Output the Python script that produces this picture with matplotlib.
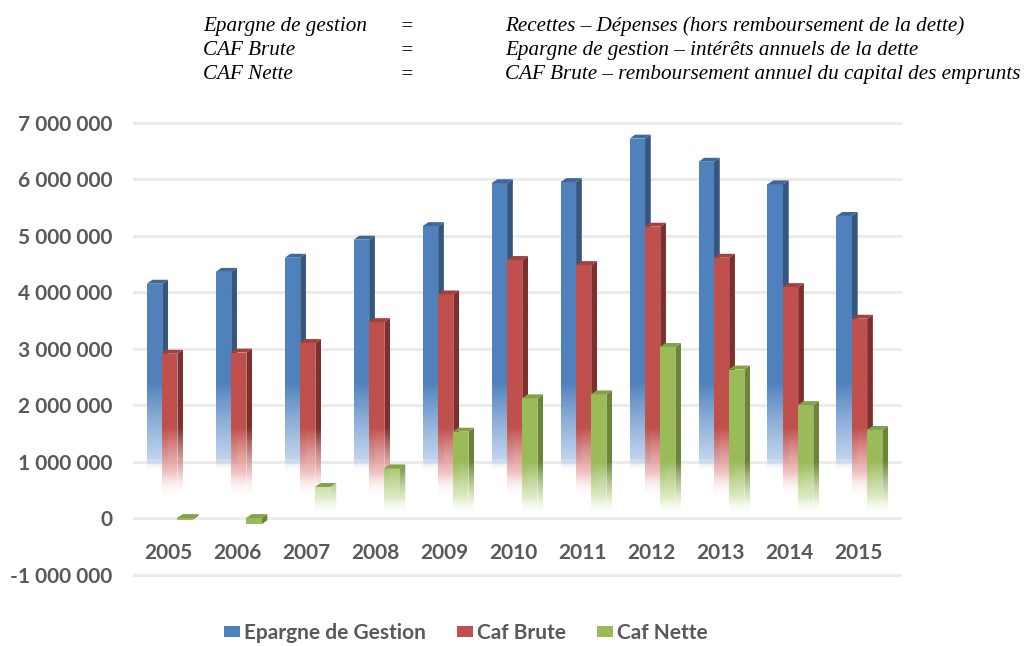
import numpy as np
import matplotlib
matplotlib.use("Agg")
import matplotlib.pyplot as plt
from matplotlib.patches import Polygon, Patch
from matplotlib.ticker import FuncFormatter
from matplotlib.colors import to_rgb

years = ["2005", "2006", "2007", "2008", "2009", "2010", "2011", "2012", "2013", "2014", "2015"]
epargne_gestion = [4150000, 4360000, 4610000, 4930000, 5170000, 5930000, 5950000, 6720000, 6310000, 5910000, 5350000]
caf_brute = [2910000, 2930000, 3100000, 3470000, 3960000, 4570000, 4480000, 5160000, 4610000, 4090000, 3530000]
caf_nette = [-30000, -110000, 550000, 880000, 1530000, 2120000, 2190000, 3030000, 2630000, 2000000, 1560000]
series_names = ["Epargne de Gestion", "Caf Brute", "Caf Nette"]
yticks = [-1000000, 0, 1000000, 2000000, 3000000, 4000000, 5000000, 6000000, 7000000]

front_colors = ["#4F81BD", "#C0504D", "#9BBB59"]
side_colors = ["#35567F", "#7F2F2D", "#6A8538"]
top_colors = ["#3F6899", "#A24240", "#84A14A"]
fade_light = ["#A9C4E8", "#EBAFAE", "#D5E6B5"]
fade_top = [2400000, 1600000, 1000000]
fade_bottom = [1050000, 800000, 350000]
fade_tail = [250000, 450000, 300000]

fig = plt.figure(figsize=(10.24, 6.46), dpi=100)
ax = fig.add_axes([0.13, 0.1063, 0.751, 0.708])

label_font = "Lato"
ax.set_yticks(yticks)
ax.yaxis.set_major_formatter(FuncFormatter(lambda v, p: "{:,}".format(int(v)).replace(",", " ")))
ax.grid(axis="y", color="#EBEBEB", linewidth=2.2, zorder=0)
ax.set_axisbelow(True)
for s in ax.spines.values():
    s.set_visible(False)
ax.spines["bottom"].set_position(("data", 0))
ax.tick_params(axis="both", length=0)
ax.tick_params(axis="y", pad=15)
ax.tick_params(axis="x", pad=18)
ax.set_xticks(range(len(years)))
ax.set_xticklabels(years)
for lab in ax.get_xticklabels() + ax.get_yticklabels():
    lab.set_fontfamily(label_font)
    lab.set_fontsize(15)
    lab.set_fontweight("bold")
    lab.set_color("#595959")

bw = 0.225
offsets = [-0.2, 0.02, 0.24]
depth_x = 0.083
depth_y = 70000


def gradient_image(col, light, ftop, fbot, tail, ylo, yhi, n=400):
    ys = np.linspace(yhi, ylo, n)
    c = np.array(to_rgb(col))
    l = np.array(to_rgb(light))
    img = np.zeros((n, 1, 4))
    for i, y in enumerate(ys):
        if y >= ftop:
            rgb, a = c, 1.0
        elif y >= fbot:
            t = (ftop - y) / (ftop - fbot)
            rgb = c * (1 - t) + l * t
            a = 1.0 - 0.25 * t
        else:
            t = min(1.0, (fbot - y) / tail)
            rgb = l
            a = 0.75 * (1 - t) ** 2
        img[i, 0, :3] = rgb
        img[i, 0, 3] = a
    return img


all_series = [epargne_gestion, caf_brute, caf_nette]
for si, vals in enumerate(all_series):
    xs = np.arange(len(vals)) + offsets[si]
    bars = ax.bar(xs, vals, width=bw, color="none", edgecolor="none", zorder=3 + si)
    for rect, v in zip(bars.patches, vals):
        x0 = rect.get_x()
        x1 = x0 + rect.get_width()
        y0 = min(0, v)
        y1 = max(0, v)
        z = 3 + si
        side = Polygon([[x1, y0], [x1 + depth_x, y0 + depth_y], [x1 + depth_x, y1 + depth_y], [x1, y1]],
                       closed=True, facecolor="none", edgecolor="none", zorder=z)
        ax.add_patch(side)
        if v >= 0:
            img = gradient_image(side_colors[si], fade_light[si], fade_top[si], fade_bottom[si], fade_tail[si],
                                 y0, y1 + depth_y)
        else:
            img = np.zeros((1, 1, 4)); img[0, 0, :3] = to_rgb(side_colors[si]); img[0, 0, 3] = 1
        im = ax.imshow(img, extent=[x1, x1 + depth_x, y0, y1 + depth_y], aspect="auto",
                       interpolation="bilinear", zorder=z)
        im.set_clip_path(side)
        front = Polygon([[x0, y0], [x1, y0], [x1, y1], [x0, y1]], closed=True,
                        facecolor="none", edgecolor="none", zorder=z + 0.1)
        ax.add_patch(front)
        if v >= 0:
            img = gradient_image(front_colors[si], fade_light[si], fade_top[si], fade_bottom[si], fade_tail[si],
                                 y0, y1)
        else:
            img = np.zeros((1, 1, 4)); img[0, 0, :3] = to_rgb(front_colors[si]); img[0, 0, 3] = 1
        im = ax.imshow(img, extent=[x0, x1, y0, y1], aspect="auto", interpolation="bilinear", zorder=z + 0.1)
        im.set_clip_path(front)
        ytop = v if v >= 0 else 0
        cap = Polygon([[x0, ytop], [x1, ytop], [x1 + depth_x, ytop + depth_y], [x0 + depth_x, ytop + depth_y]],
                      closed=True, facecolor=top_colors[si], edgecolor="none", zorder=z + 0.2)
        ax.add_patch(cap)

ax.set_xlim(-0.51, 10.64)
ax.set_ylim(-1050000, 7050000)

hdr_left = ["Epargne de gestion", "CAF Brute", "CAF Nette"]
hdr_right = ["Recettes – Dépenses (hors remboursement de la dette)",
             "Epargne de gestion – intérêts annuels de la dette",
             "CAF Brute – remboursement annuel du capital des emprunts"]
for i in range(3):
    yy = 1 - (31 + 24 * i) / 646
    kw = dict(family="Liberation Serif", style="italic", fontsize=15.2, va="baseline", ha="left", color="black")
    fig.text(203 / 1024, yy, hdr_left[i], **kw)
    fig.text(400 / 1024, yy, "=", **kw)
    fig.text(505 / 1024, yy, hdr_right[i], **kw)

handles = [Patch(facecolor=c, edgecolor="none") for c in front_colors]
leg = fig.legend(handles, series_names, loc="center", bbox_to_anchor=(0.455, 0.02), ncol=3,
                 frameon=False, handlelength=0.75, handleheight=0.45, handletextpad=0.2,
                 columnspacing=1.5, prop=dict(family=label_font, size=15, weight="bold"))
for t in leg.get_texts():
    t.set_color("#595959")

fig.savefig("out.png", dpi=100)
